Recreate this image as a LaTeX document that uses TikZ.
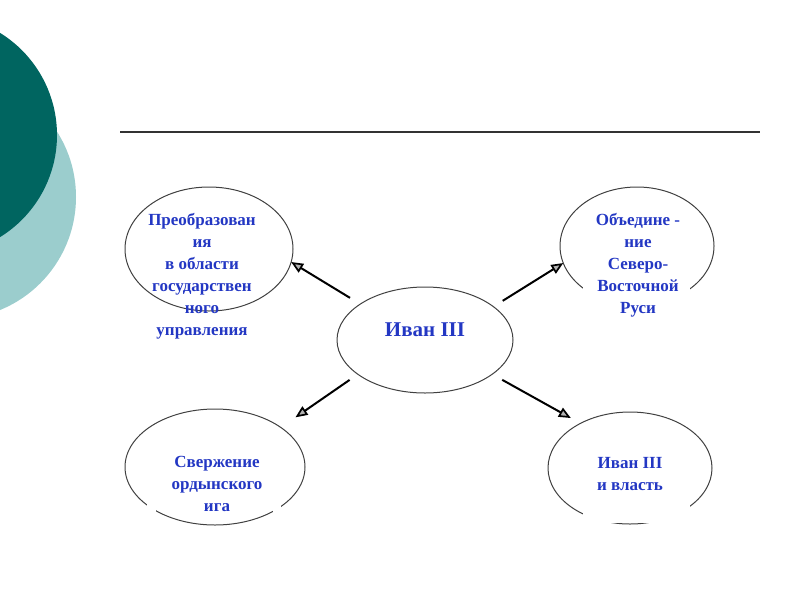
\documentclass[tikz,border=0pt]{standalone}
\usepackage{fontspec}
\setmainfont{Liberation Serif}
\usetikzlibrary{shapes.geometric,arrows.meta}
\definecolor{darkteal}{RGB}{0,101,96}
\definecolor{lightteal}{RGB}{155,205,205}
\definecolor{txtblue}{RGB}{35,55,195}
\begin{document}
\begin{tikzpicture}[x=1pt,y=-1pt,
  bubble/.style={ellipse,draw=black!75,line width=1pt,inner sep=0pt,outer sep=0pt},
  lbl/.style={text=txtblue,font=\bfseries\fontsize{17}{22}\selectfont,align=center,inner sep=0pt},
  arr/.style={line width=2pt,draw=black,-{Triangle[length=12pt,width=10pt,fill=gray!60,line width=1.7pt]}},
  gap/.style={fill=white,draw=none}
]
\useasboundingbox (0,0) rectangle (800,600);
% decorative circles
\fill[lightteal] (-46,197) circle (122pt);
\fill[darkteal] (-63,135) circle (120pt);
% rule
\draw[line width=1.5pt,black!80] (120,132) -- (760,132);
% ellipses
\node[bubble,minimum width=168pt,minimum height=124pt] (tl) at (209,249) {};
\node[bubble,minimum width=154pt,minimum height=118pt] (tr) at (637,246) {};
\node[bubble,minimum width=176pt,minimum height=106pt] (c) at (425,340) {};
\node[bubble,minimum width=180pt,minimum height=116pt] (bl) at (215,467) {};
\node[bubble,minimum width=164pt,minimum height=112pt] (br) at (630,468) {};
% gaps in outlines
\fill[gap] (583,270) rectangle (690,322);
\fill[gap] (583,500) rectangle (690,522.6);
\fill[gap] (147,498) rectangle (156,515);
\fill[gap] (273,498) rectangle (281,517);
% texts
\node[lbl] (tlt) at (202,276) {Преобразован\\ия\\в области\\государствен\\ного\\управления};
\node[lbl] (trt) at (638,265) {Объедине -\\ние\\Северо-\\Восточной\\Руси};
\node[lbl,font=\bfseries\fontsize{21}{24}\selectfont] (ct) at (425,330) {Иван III};
\node[lbl] (blt) at (217,484) {Свержение\\ордынского\\ига};
\node[lbl] (brt) at (630,474) {Иван III\\и власть};
% arrows
\draw[arr,shorten <=12pt] (c.151) -- (tl.-9);
\draw[arr,shorten <=11pt] (c.26.6) -- (tr.-167.6);
\draw[arr,shorten <=10pt,shorten >=17.8pt] (c.207.3) -- (bl.31.6);
\draw[arr,shorten <=11.5pt,shorten >=11pt] (c.-27.3) -- (br.138.1);
\end{tikzpicture}
\end{document}
